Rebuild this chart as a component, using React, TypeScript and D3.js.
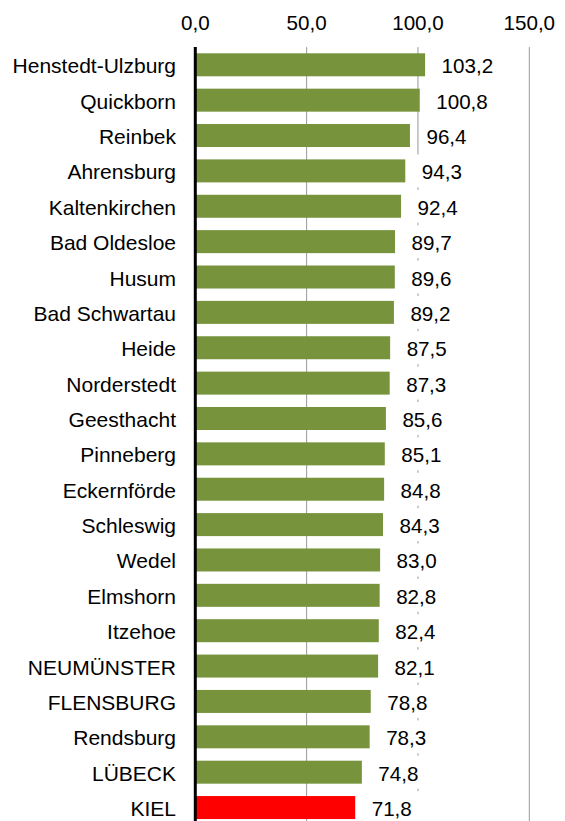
import React from "react";
import * as d3 from "d3";

const categories = [
  "Henstedt-Ulzburg", "Quickborn", "Reinbek", "Ahrensburg", "Kaltenkirchen",
  "Bad Oldesloe", "Husum", "Bad Schwartau", "Heide", "Norderstedt", "Geesthacht",
  "Pinneberg", "Eckernförde", "Schleswig", "Wedel", "Elmshorn", "Itzehoe",
  "NEUMÜNSTER", "FLENSBURG", "Rendsburg", "LÜBECK", "KIEL",
];
const values = [
  103.2, 100.8, 96.4, 94.3, 92.4, 89.7, 89.6, 89.2, 87.5, 87.3, 85.6,
  85.1, 84.8, 84.3, 83.0, 82.8, 82.4, 82.1, 78.8, 78.3, 74.8, 71.8,
];
const highlighted = ["KIEL"];
const ticks = [0, 50, 100, 150];

const W = 565;
const H = 821;
const FONT = "'Liberation Sans', Arial, sans-serif";

const fmt = (v: number) => v.toFixed(1).replace(".", ",");

export default function App() {
  const x = d3.scaleLinear().domain([0, 150]).range([195.3, 529.3]);
  const top = 47.1;
  const step = 35.37;
  const y = d3
    .scaleBand<string>()
    .domain(categories)
    .range([top, top + step * categories.length])
    .paddingInner(0.35)
    .paddingOuter(0.175);
  const bw = y.bandwidth();
  const bottom = top + step * categories.length;

  return (
    <svg
      width={W}
      height={H}
      style={{ position: "absolute", left: 0, top: 0, background: "#fff" }}
      fontFamily={FONT}
    >
      <rect x={0} y={0} width={W} height={H} fill="#fff" />
      {ticks.map((t) => (
        <g key={t}>
          {t !== 0 && (
            <line x1={x(t)} x2={x(t)} y1={top} y2={bottom} stroke="#999" strokeWidth={1} />
          )}
          <text x={x(t)} y={30} textAnchor="middle" fontSize={20.6} fill="#000">
            {fmt(t)}
          </text>
        </g>
      ))}
      {categories.map((c, i) => (
        <rect
          key={c}
          x={x(0)}
          y={y(c)}
          width={x(values[i]) - x(0)}
          height={bw}
          fill={highlighted.includes(c) ? "#FF0000" : "#77933C"}
        />
      ))}
      {categories.map((c, i) => {
        const yc = (y(c) as number) + bw / 2;
        const tx = x(values[i]) + 16.5;
        return (
          <g key={c + "-lbl"}>
            <rect x={tx - 6} y={yc - (step - 2.5) / 2} width={66} height={step - 2.5} fill="#fff" />
            <text x={tx} y={yc + 8.5} fontSize={20.6} fill="#000">
              {fmt(values[i])}
            </text>
            <text x={176} y={yc + 8.5} fontSize={21} textAnchor="end" fill="#000">
              {c}
            </text>
          </g>
        );
      })}
      <line x1={x(0)} x2={x(0)} y1={top} y2={bottom} stroke="#000" strokeWidth={3} />
    </svg>
  );
}
